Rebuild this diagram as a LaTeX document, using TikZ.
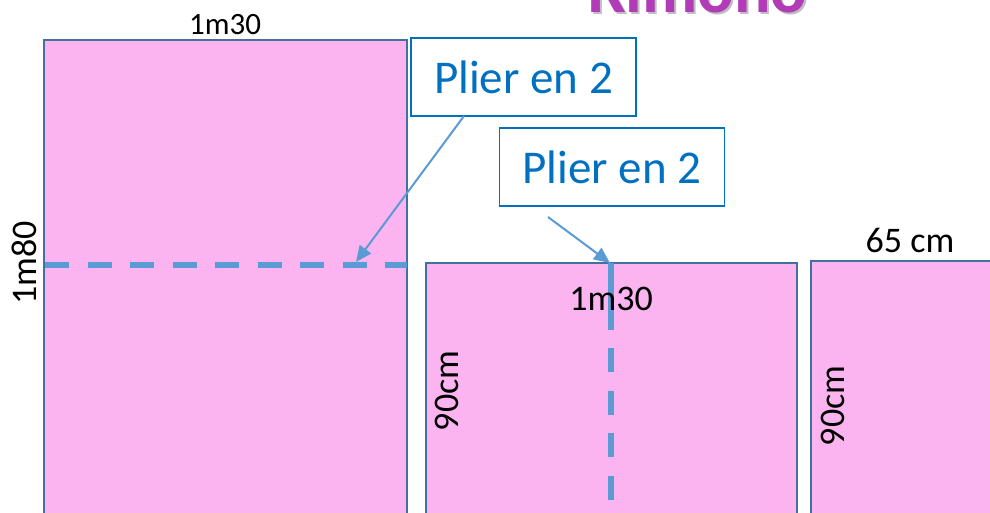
\documentclass[tikz,border=0pt]{standalone}
\usepackage{fontspec}
\setmainfont{Carlito}
\usetikzlibrary{arrows.meta}
\definecolor{fabric}{HTML}{FBB4EF}
\definecolor{edge}{HTML}{41719C}
\definecolor{callblue}{HTML}{0070C0}
\definecolor{foldblue}{HTML}{5B9BD5}
\definecolor{titlepurple}{HTML}{B23CB8}
\tikzset{
  piece/.style={fill=fabric, draw=edge, line width=1.8pt},
  callout/.style={draw=callblue, fill=white, line width=1.3pt, text=callblue,
    minimum width=225pt, minimum height=78pt, inner sep=0pt,
    font=\fontsize{47}{56}\selectfont},
  fold/.style={draw=foldblue, line width=6pt, dash pattern=on 24pt off 18.5pt},
  pointer/.style={draw=foldblue, line width=2pt, -{Triangle[length=16pt,width=14pt]}},
  dimbig/.style={inner sep=0pt, font=\fontsize{36}{42}\selectfont},
  dimsmall/.style={inner sep=0pt, font=\fontsize{31}{36}\selectfont},
}
\begin{document}
\begin{tikzpicture}[x=1pt,y=-1pt]
\useasboundingbox (0,0) rectangle (990,512);
% title (cut off at the top)
\node[anchor=base, inner sep=0pt, text=black!25, font=\fontsize{68}{80}\bfseries] (titleshadow) at (700,14) {Kimono};
\node[anchor=base, inner sep=0pt, text=titlepurple, font=\fontsize{68}{80}\bfseries] (title) at (698,12) {Kimono};
% fabric pieces
\draw[piece] (44,40) rectangle (407,540);
\draw[piece] (426,263) rectangle (797,540);
\draw[piece] (811,261) rectangle (1010,540);
% fold lines
\draw[fold, dash phase=0pt] (45,265) -- (407,265);
\draw[draw=foldblue, line width=6pt] (611,263) -- (611,330);
\draw[fold] (611,348) -- (611,500);
% dimension labels
\node[dimsmall, anchor=base] (w1) at (225,34) {1m30};
\node[dimbig, anchor=base, rotate=90] (h1) at (36,263) {1m80};
\node[dimbig, anchor=base] (w2) at (611,310) {1m30};
\node[dimbig, anchor=base, rotate=90] (h2) at (458,391) {90cm};
\node[dimbig, anchor=base] (w3) at (910,252) {65 cm};
\node[dimbig, anchor=base, rotate=90] (h3) at (844,406) {90cm};
% callouts
\node[callout] (c1) at (523.5,77) {Plier en 2};
\node[callout] (c2) at (612,167) {Plier en 2};
\coordinate (s1) at (464,116);
\coordinate (t1) at (356,262);
\coordinate (s2) at (548,217);
\coordinate (t2) at (610,263);
\draw[pointer] (s1) -- (t1);
\draw[pointer] (s2) -- (t2);
\end{tikzpicture}
\end{document}
